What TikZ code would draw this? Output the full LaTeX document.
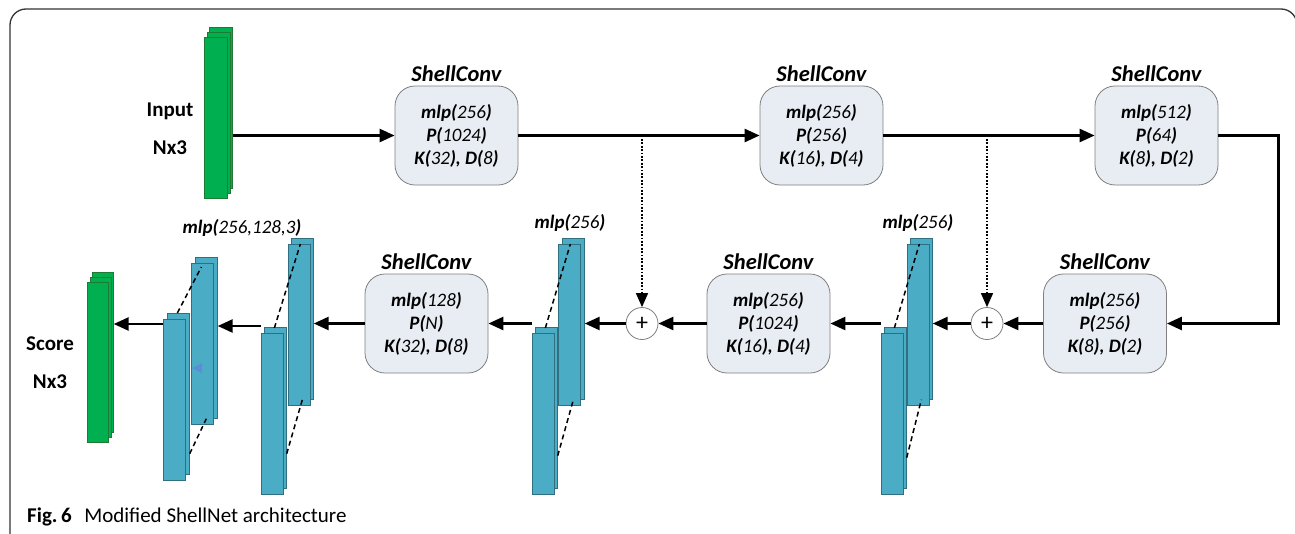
\documentclass[tikz,border=0pt]{standalone}
\usepackage{fontspec}
\setmainfont{Carlito}
\usetikzlibrary{arrows.meta,calc}
\definecolor{gfill}{HTML}{00B050}
\definecolor{gdraw}{HTML}{1E7B34}
\definecolor{bfill}{HTML}{4BACC6}
\definecolor{bdraw}{HTML}{2F6F80}
\definecolor{boxfill}{HTML}{E8EDF3}
\definecolor{boxdraw}{HTML}{7F7F7F}
\definecolor{framec}{HTML}{333333}
\definecolor{artblue}{HTML}{5B8ED6}
\newcommand{\bix}[1]{\textbf{\textit{#1}}}
\newcommand{\itx}[1]{\textit{#1}}
\begin{document}
\begin{tikzpicture}[x=1pt,y=-1pt,
  bbar/.style={draw=bdraw, fill=bfill, line width=0.7pt, minimum width=22pt, minimum height=161pt, inner sep=0pt, anchor=north west},
  gbar/.style={draw=gdraw, fill=gfill, line width=0.7pt, minimum width=23pt, minimum height=161pt, inner sep=0pt, anchor=north west},
  sc/.style={draw=boxdraw, fill=boxfill, rounded corners=20pt, minimum width=123pt, minimum height=99pt, align=center, font=\fontsize{19}{23}\selectfont, inner sep=0pt, line width=0.8pt},
  ttl/.style={font=\fontsize{22.5}{24}\selectfont\bfseries\itshape, inner sep=0pt},
  lbl/.style={font=\fontsize{19}{22}\selectfont, inner sep=0pt},
  side/.style={font=\fontsize{21}{22}\selectfont\bfseries, inner sep=0pt},
  arr/.style={line width=2.6pt, -{Triangle[length=15pt,width=13pt]}},
  dotarr/.style={line width=1.5pt, dash pattern=on 1.8pt off 1.6pt, -{Triangle[length=14pt,width=12pt]}},
  dsh/.style={line width=1.5pt, dash pattern=on 5pt off 3.5pt},
  plus/.style={circle, draw=boxdraw, fill=white, minimum size=32pt, inner sep=0pt, line width=0.8pt, font=\fontsize{24}{24}\selectfont}
]
\useasboundingbox (0,0) rectangle (1295,533);
% frame
\draw[framec, line width=1.3pt, rounded corners=16pt] (10,545) -- (10,9) -- (1297,9) -- (1297,545);

% input stack
\node[gbar] (gi3) at (209,27) {};
\node[gbar] (gi2) at (206.5,32) {};
\node[gbar] (gi1) at (204,37) {};
\node[side] (tin) at (170,111) {Input};
\node[side] (tinn) at (170,148) {Nx3};

% output stack
\node[gbar, minimum width=21pt, minimum height=160pt] (go3) at (92,272) {};
\node[gbar, minimum width=21pt, minimum height=160pt] (go2) at (89.5,277) {};
\node[gbar, minimum width=21pt, minimum height=160pt] (go1) at (87,282) {};
\node[side] (tsc) at (50,344) {Score};
\node[side] (tscn) at (50,382) {Nx3};

% encoder boxes
\node[sc] (b1) at (456.5,135.5) {\bix{mlp(}\itx{256}\bix{)}\\\bix{P(}\itx{1024}\bix{)}\\\bix{K(}\itx{32}\bix{), D(}\itx{8}\bix{)}};
\node[sc] (b2) at (821.5,135.5) {\bix{mlp(}\itx{256}\bix{)}\\\bix{P(}\itx{256}\bix{)}\\\bix{K(}\itx{16}\bix{), D(}\itx{4}\bix{)}};
\node[sc] (b3) at (1156.5,135.5) {\bix{mlp(}\itx{512}\bix{)}\\\bix{P(}\itx{64}\bix{)}\\\bix{K(}\itx{8}\bix{), D(}\itx{2}\bix{)}};
% decoder boxes
\node[sc] (b4) at (1105,323.5) {\bix{mlp(}\itx{256}\bix{)}\\\bix{P(}\itx{256}\bix{)}\\\bix{K(}\itx{8}\bix{), D(}\itx{2}\bix{)}};
\node[sc] (b5) at (768.5,323.5) {\bix{mlp(}\itx{256}\bix{)}\\\bix{P(}\itx{1024}\bix{)}\\\bix{K(}\itx{16}\bix{), D(}\itx{4}\bix{)}};
\node[sc] (b6) at (426.5,323.5) {\bix{mlp(}\itx{128}\bix{)}\\\bix{P(}\itx{N}\bix{)}\\\bix{K(}\itx{32}\bix{), D(}\itx{8}\bix{)}};

\foreach \b in {b1,b2,b3,b4,b5,b6}{
  \node[ttl] (t\b) at ($(\b.north)+(0,-12)$) {ShellConv};
}

% plus circles
\node[plus] (p1) at (642,323.5) {+};
\node[plus] (p2) at (987,323.5) {+};

% blue stacks
\node[bbar] (s2ub) at (910,238) {};
\node[bbar] (s2uf) at (907,244) {};
\node[bbar] (s2lb) at (884,327) {};
\node[bbar] (s2lf) at (881,333) {};
\node[bbar] (s1ub) at (562,238) {};
\node[bbar] (s1uf) at (558,244) {};
\node[bbar] (s1lb) at (535,327) {};
\node[bbar] (s1lf) at (532,333) {};
\node[bbar] (sBub) at (291,238) {};
\node[bbar] (sBuf) at (288,244) {};
\node[bbar] (sBlb) at (264,327) {};
\node[bbar] (sBlf) at (261,333) {};
\node[bbar] (sAub) at (195,257) {};
\node[bbar] (sAuf) at (191,263) {};
\node[bbar] (sAlb) at (167,313) {};
\node[bbar] (sAlf) at (163,319) {};

% dashed links
\draw[dsh] ($(s2lb.north)+(-1,1)$) -- ($(s2uf.north)+(1,0)$);
\draw[dsh] ($(s2lb.south east)+(0,-31)$) -- (s2ub.south);
\draw[dsh] ($(s1lb.north)+(-1,1)$) -- ($(s1uf.north)+(1,0)$);
\draw[dsh] ($(s1lb.south east)+(0,-33)$) -- (s1ub.south);
\draw[dsh] ($(sBlb.north)+(-1,1)$) -- ($(sBuf.north)+(1,0)$);
\draw[dsh] ($(sBlb.south east)+(0,-35)$) -- (sBub.south);
\draw[dsh] ($(sAlb.north)+(-1,0)$) -- ($(sAuf.north)+(-1,4)$);
\draw[dsh] ($(sAlb.south east)+(0,-21)$) -- (sAub.south);

% small blue mark
\fill[artblue] (192,368) -- (202,363) -- (202,373) -- cycle;

% labels
\node[lbl] (l1) at (570,223) {\bix{mlp(}\itx{256}\bix{)}};
\node[lbl] (l2) at (918,223) {\bix{mlp(}\itx{256}\bix{)}};
\node[lbl] (l3) at (242,228) {\bix{mlp(}\itx{256,128,3}\bix{)}};

% connectors
\draw[arr] (gi3.east |- b1.west) -- (b1.west);
\draw[arr] (b1.east) -- (b2.west);
\draw[arr] (b2.east) -- (b3.west);
\draw[arr] (b3.east) -- ++(60,0) |- (b4.east);
\draw[arr] (b4.west) -- (p2.east);
\draw[dotarr] (p2 |- b2.east) -- (p2.north);
\draw[arr] (p2.west) -- (s2ub.east |- p2.west);
\draw[arr] (s2lf.west |- b5.east) -- (b5.east);
\draw[arr] (b5.west) -- (p1.east);
\draw[dotarr] (p1 |- b1.east) -- (p1.north);
\draw[arr] (p1.west) -- (s1ub.east |- p1.west);
\draw[arr] (s1lf.west |- b6.east) -- (b6.east);
\draw[arr] (b6.west) -- (sBub.east |- b6.west);
\coordinate (yA) at (0,326);
\draw[arr] (sBlf.west |- yA) -- (sAub.east |- yA);
\coordinate (yO) at (0,324);
\draw[arr] (sAlf.west |- yO) -- (go3.east |- yO);

% caption
\node[anchor=west, inner sep=0pt, font=\fontsize{21}{24}\selectfont] (cap) at (27,517) {\textbf{Fig.\,6}\hspace{0.6em}Modified ShellNet architecture};
\end{tikzpicture}
\end{document}
